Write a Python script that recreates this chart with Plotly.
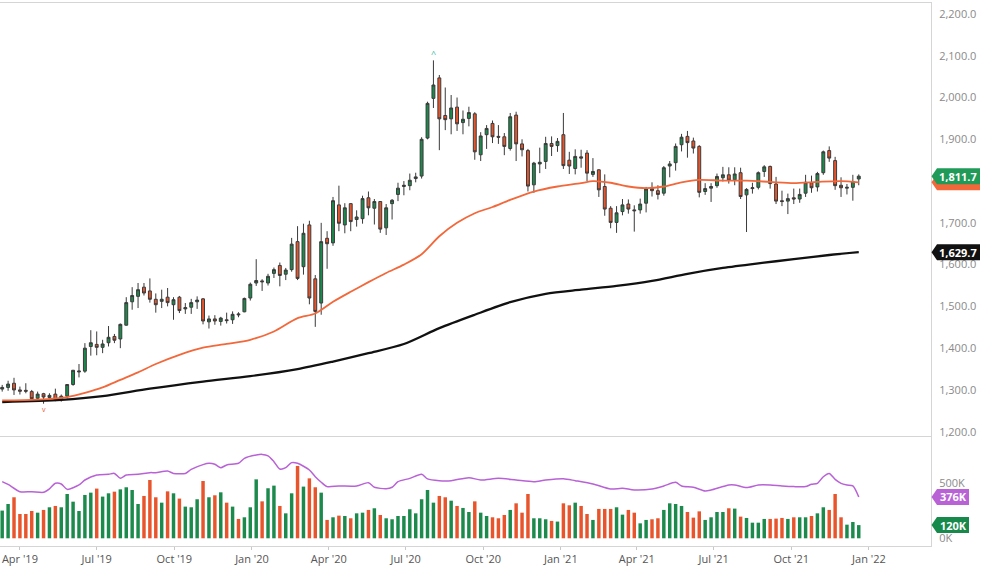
import pandas as pd
import plotly.graph_objects as go
from plotly.subplots import make_subplots

# ---------------- data (weekly) ----------------
week_start = "2019-03-11"
n_weeks = 146
dates = pd.date_range(week_start, periods=n_weeks, freq="7D")

opens = [1302, 1306, 1316, 1300, 1299, 1296, 1280, 1291, 1282, 1290, 1277, 1285, 1313, 1343, 1345, 1404, 1409, 1402, 1413, 1428,
         1422, 1455, 1511, 1524, 1546, 1537, 1517, 1512, 1522, 1504, 1522, 1494, 1498, 1511, 1518, 1463, 1470, 1464, 1468, 1468,
         1482, 1487, 1520, 1556, 1561, 1556, 1579, 1598, 1577, 1588, 1655, 1595, 1695, 1566, 1508, 1663, 1652, 1743, 1695, 1746,
         1708, 1710, 1760, 1735, 1751, 1688, 1746, 1768, 1787, 1789, 1806, 1812, 1903, 1998, 2047, 1957, 1949, 1977, 1940, 1950,
         1961, 1863, 1911, 1938, 1907, 1906, 1878, 1958, 1889, 1873, 1791, 1841, 1847, 1890, 1885, 1911, 1850, 1830, 1858, 1867,
         1816, 1827, 1787, 1735, 1701, 1727, 1745, 1731, 1731, 1747, 1782, 1777, 1771, 1836, 1844, 1887, 1907, 1896, 1883, 1775,
         1783, 1789, 1808, 1815, 1803, 1820, 1767, 1782, 1785, 1823, 1835, 1793, 1753, 1752, 1760, 1757, 1771, 1796, 1786, 1820,
         1873, 1849, 1790, 1783, 1785, 1805]
highs = [1312, 1322, 1329, 1308, 1316, 1300, 1296, 1293, 1292, 1303, 1289, 1313, 1348, 1362, 1412, 1443, 1440, 1420, 1453, 1434,
         1459, 1522, 1546, 1556, 1556, 1567, 1531, 1540, 1544, 1522, 1525, 1508, 1518, 1524, 1520, 1478, 1479, 1475, 1485, 1488,
         1486, 1521, 1557, 1613, 1565, 1578, 1593, 1605, 1592, 1664, 1692, 1698, 1705, 1575, 1700, 1680, 1762, 1789, 1747, 1747,
         1730, 1765, 1775, 1757, 1752, 1745, 1757, 1796, 1800, 1818, 1820, 1905, 1990, 2089, 2054, 2024, 2006, 2000, 1969, 1978,
         1965, 1917, 1934, 1945, 1934, 1915, 1963, 1966, 1900, 1877, 1846, 1880, 1906, 1907, 1903, 1963, 1870, 1876, 1875, 1874,
         1855, 1828, 1816, 1740, 1740, 1757, 1756, 1742, 1758, 1786, 1797, 1790, 1836, 1848, 1890, 1913, 1920, 1904, 1886, 1795,
         1795, 1818, 1834, 1833, 1833, 1832, 1783, 1796, 1823, 1838, 1837, 1810, 1777, 1770, 1782, 1782, 1815, 1813, 1822, 1873,
         1883, 1858, 1809, 1793, 1815, 1816]
lows = [1296, 1298, 1288, 1289, 1292, 1274, 1272, 1267, 1279, 1273, 1272, 1280, 1310, 1330, 1341, 1382, 1383, 1388, 1404, 1412,
        1400, 1454, 1492, 1496, 1526, 1509, 1485, 1496, 1500, 1468, 1484, 1482, 1482, 1494, 1457, 1447, 1456, 1454, 1459, 1458,
        1474, 1486, 1514, 1549, 1537, 1550, 1568, 1548, 1563, 1583, 1563, 1576, 1505, 1451, 1480, 1590, 1645, 1680, 1675, 1680,
        1691, 1698, 1718, 1696, 1676, 1671, 1708, 1752, 1766, 1778, 1797, 1806, 1900, 1975, 1874, 1922, 1912, 1920, 1912, 1931,
        1851, 1848, 1877, 1891, 1889, 1862, 1873, 1848, 1859, 1775, 1772, 1819, 1829, 1860, 1870, 1829, 1817, 1816, 1832, 1800,
        1810, 1762, 1717, 1687, 1676, 1718, 1722, 1679, 1722, 1725, 1763, 1756, 1765, 1809, 1825, 1871, 1856, 1866, 1761, 1767,
        1750, 1784, 1799, 1794, 1790, 1757, 1678, 1770, 1780, 1810, 1782, 1745, 1740, 1721, 1745, 1748, 1762, 1772, 1775, 1815,
        1846, 1779, 1762, 1768, 1753, 1790]
closes = [1306, 1314, 1300, 1297, 1297, 1279, 1290, 1283, 1287, 1277, 1285, 1313, 1347, 1345, 1400, 1413, 1402, 1410, 1426, 1419,
          1457, 1509, 1526, 1540, 1532, 1517, 1504, 1517, 1509, 1516, 1490, 1497, 1509, 1515, 1465, 1470, 1465, 1472, 1466, 1481,
          1480, 1519, 1553, 1562, 1559, 1572, 1588, 1574, 1587, 1649, 1567, 1675, 1520, 1488, 1655, 1650, 1753, 1699, 1736, 1703,
          1714, 1758, 1736, 1751, 1685, 1736, 1754, 1783, 1790, 1802, 1810, 1900, 1986, 2030, 1949, 1947, 1975, 1937, 1948, 1964,
          1870, 1908, 1926, 1906, 1905, 1883, 1954, 1889, 1875, 1788, 1843, 1845, 1890, 1883, 1895, 1837, 1836, 1859, 1855, 1819,
          1823, 1779, 1733, 1701, 1724, 1743, 1733, 1729, 1745, 1781, 1777, 1768, 1832, 1841, 1883, 1905, 1892, 1879, 1773, 1782,
          1787, 1811, 1815, 1802, 1817, 1763, 1780, 1784, 1820, 1834, 1794, 1752, 1751, 1758, 1757, 1768, 1797, 1784, 1818, 1870,
          1855, 1789, 1784, 1785, 1799, 1811.7]
volumes_k = [252, 312, 373, 221, 221, 248, 233, 258, 282, 294, 282, 403, 333, 248, 394, 415, 452, 379, 409, 424,
             445, 464, 439, 312, 385, 530, 373, 324, 427, 409, 361, 288, 282, 355, 521, 373, 391, 418, 324, 288,
             176, 191, 282, 536, 336, 455, 479, 294, 227, 409, 658, 470, 545, 464, 415, 167, 191, 206, 203, 182,
             227, 233, 258, 273, 212, 182, 173, 203, 203, 264, 227, 355, 439, 324, 385, 373, 342, 294, 276, 239,
             336, 233, 203, 191, 182, 212, 258, 318, 233, 403, 182, 182, 173, 158, 152, 318, 300, 324, 294, 221,
             167, 267, 267, 267, 282, 215, 258, 233, 136, 167, 173, 182, 258, 318, 312, 294, 239, 188, 245, 167,
             191, 239, 239, 273, 270, 197, 185, 142, 142, 176, 176, 179, 185, 176, 191, 191, 191, 203, 227, 282,
             258, 403, 191, 124, 148, 120]

# open-interest style line (K), sampled at week indices
oi_idx = [0, 1, 3, 5, 7, 8, 9, 10, 11, 13, 14, 16, 18, 19, 20, 21, 23, 25, 26, 28, 29, 31, 32, 34, 35, 36, 37, 38, 40, 41,
          43, 44, 45, 46, 47, 48, 49, 50, 52, 53, 54, 55, 57, 60, 62, 63, 65, 66, 67, 69, 71, 72, 74, 76, 79, 81, 84, 87, 90, 92,
          95, 97, 100, 103, 105, 107, 110, 112, 114, 115, 117, 119, 120, 123, 124, 126, 128, 130, 132, 134, 136, 137, 138, 139, 140, 141,
          142, 143, 144, 145]
oi_k = [515, 490, 424, 424, 418, 450, 500, 494, 445, 485, 530, 575, 582, 590, 545, 575, 582, 597, 597, 612, 590, 590, 627, 670, 682,
        673, 642, 667, 682, 727, 757, 763, 750, 697, 630, 642, 688, 682, 621, 560, 510, 470, 476, 476, 506, 464, 451, 464, 515, 545,
        582, 540, 524, 524, 551, 530, 545, 530, 515, 530, 542, 524, 494, 448, 455, 439, 448, 476, 509, 476, 464, 430, 439, 485, 485,
        461, 485, 485, 476, 470, 470, 491, 500, 560, 590, 536, 500, 485, 476, 376]

ma_fast_idx = [0, 6, 11, 14, 17, 20, 23, 26, 30, 34, 38, 42, 46, 50, 53, 56, 59, 62, 65, 68, 71, 74, 77, 80, 83, 86, 90, 94, 98,
               100, 103, 106, 109, 112, 115, 118, 122, 126, 130, 134, 138, 142, 145]
ma_fast = [1275, 1277, 1283, 1293, 1306, 1324, 1342, 1362, 1384, 1401, 1410, 1420, 1440, 1472, 1483, 1511, 1535, 1558, 1580, 1600,
           1625, 1668, 1700, 1723, 1738, 1755, 1775, 1787, 1795, 1800, 1796, 1787, 1783, 1787, 1797, 1803, 1801, 1801, 1798, 1795,
           1798, 1800, 1797]
ma_slow_idx = [0, 10, 17, 25, 34, 42, 50, 56, 62, 68, 74, 80, 86, 92, 98, 104, 110, 116, 122, 128, 134, 140, 145]
ma_slow = [1271, 1276, 1285, 1303, 1320, 1333, 1350, 1368, 1388, 1410, 1448, 1480, 1510, 1530, 1540, 1549, 1561, 1578, 1592, 1603,
           1613, 1623, 1629.7]

x_tick_vals = pd.date_range("2019-04-01", "2022-01-01", freq="QS")
x_tick_text = ["Apr '19", "Jul '19", "Oct '19", "Jan '20", "Apr '20", "Jul '20", "Oct '20",
               "Jan '21", "Apr '21", "Jul '21", "Oct '21", "Jan '22"]
price_ticks = list(range(1200, 2201, 100))
vol_ticks = [0, 500]
vol_tick_text = ["0K", "500K"]

# ---------------- styling ----------------
GREEN = "#1b8a4c"
RED = "#e8552c"
ORANGE = "#f2683a"
PURPLE = "#b862d6"
AXIS = "#d5d5d5"
FONT = "Open Sans, Noto Sans, sans-serif"

W, H = 988, 567
ML, MR, MT, MB = 0, 57, 3, 21
plot_w = W - ML - MR
plot_h = H - MT - MB
main_dom = [110 / plot_h, 1.0]
vol_dom = [0.0, 109 / plot_h]
y_range = [1189.7, 2226.3]
v_range = [-70, 921]
x_range = ["2019-03-08 09:36", "2022-03-15 14:24"]

fig = make_subplots(rows=2, cols=1, shared_xaxes=True, vertical_spacing=0)

fig.add_trace(go.Scatter(x=[dates[i] for i in ma_slow_idx], y=ma_slow, mode="lines",
                         line=dict(color="#111111", width=2.3, shape="spline", smoothing=0.8),
                         hoverinfo="skip", showlegend=False), row=1, col=1)
fig.add_trace(go.Scatter(x=[dates[i] for i in ma_fast_idx], y=ma_fast, mode="lines",
                         line=dict(color=ORANGE, width=1.8, shape="spline", smoothing=0.8),
                         hoverinfo="skip", showlegend=False), row=1, col=1)
fig.add_trace(go.Candlestick(x=dates, open=opens, high=highs, low=lows, close=closes,
                             increasing=dict(fillcolor=GREEN, line=dict(color="#3a3a3a", width=1)),
                             decreasing=dict(fillcolor=RED, line=dict(color="#3a3a3a", width=1)),
                             whiskerwidth=0, showlegend=False), row=1, col=1)

bar_colors = [GREEN if c >= o else RED for o, c in zip(opens, closes)]
bar_w_ms = 4.1 * 86400000
fig.add_trace(go.Bar(x=dates, y=volumes_k, marker=dict(color=bar_colors, line=dict(width=0)),
                     width=[bar_w_ms] * n_weeks, showlegend=False, hoverinfo="skip"), row=2, col=1)
fig.add_trace(go.Scatter(x=[dates[i] for i in oi_idx], y=oi_k, mode="lines",
                         line=dict(color=PURPLE, width=1.5, shape="spline", smoothing=0.7),
                         hoverinfo="skip", showlegend=False), row=2, col=1)

fig.update_layout(
    width=W, height=H, margin=dict(l=ML, r=MR, t=MT, b=MB),
    paper_bgcolor="white", plot_bgcolor="white",
    font=dict(family=FONT, size=11, color="#555555"),
    bargap=0.3, showlegend=False, hovermode=False,
)
fig.update_xaxes(range=x_range, showgrid=False, zeroline=False)
fig.update_layout(
    xaxis=dict(rangeslider=dict(visible=False), showticklabels=False, showline=True, linecolor=AXIS,
               linewidth=1, mirror=True, ticks=""),
    xaxis2=dict(tickvals=list(x_tick_vals), ticktext=x_tick_text, showline=True, linecolor=AXIS, linewidth=1,
                ticks="outside", ticklen=3, tickcolor="#c8c8c8",
                tickfont=dict(size=11, color="#555555", family=FONT)),
    yaxis=dict(domain=main_dom, range=y_range, side="right", tickvals=price_ticks, tickformat=",.1f",
               showgrid=False, zeroline=False, showline=True, linecolor=AXIS, linewidth=1,
               ticks="outside", ticklen=5, tickcolor="rgba(0,0,0,0)",
               tickfont=dict(size=11, color="#8a8a8a", family=FONT)),
    yaxis2=dict(domain=vol_dom, range=v_range, side="right", tickvals=vol_ticks, ticktext=vol_tick_text,
                showgrid=False, zeroline=False, showline=True, linecolor=AXIS, linewidth=1,
                ticks="outside", ticklen=5, tickcolor="rgba(0,0,0,0)",
                tickfont=dict(size=11, color="#8a8a8a", family=FONT)),
)

# value tags on the right axis
main_units_per_px = (y_range[1] - y_range[0]) / (plot_h * (main_dom[1] - main_dom[0]))
vol_units_per_px = (v_range[1] - v_range[0]) / (plot_h * (vol_dom[1] - vol_dom[0]))


def add_tag(yval, yref, upp, color, text, right_px):
    half = 8 * upp
    xp = 931.5 / plot_w
    xl = 937 / plot_w
    xr = right_px / plot_w
    path = (f"M {xp},{yval} L {xl},{yval + half} L {xr},{yval + half} "
            f"L {xr},{yval - half} L {xl},{yval - half} Z")
    fig.add_shape(type="path", path=path, xref="paper", yref=yref, fillcolor=color,
                  line=dict(width=0), layer="above")
    if text:
        fig.add_annotation(x=(xl + xr) / 2, y=yval, xref="paper", yref=yref, text=f"<b>{text}</b>",
                           showarrow=False, font=dict(size=11, color="white", family=FONT),
                           xanchor="center", yanchor="middle")


add_tag(ma_fast[-1], "y", main_units_per_px, ORANGE, "", 980)
add_tag(closes[-1], "y", main_units_per_px, "#1f9a57", f"{closes[-1]:,.1f}", 980)
add_tag(ma_slow[-1], "y", main_units_per_px, "#111111", f"{ma_slow[-1]:,.1f}", 980)
add_tag(oi_k[-1], "y2", vol_units_per_px, PURPLE, f"{oi_k[-1]:.0f}K", 969)
add_tag(volumes_k[-1], "y2", vol_units_per_px, "#17894b", f"{volumes_k[-1]:.0f}K", 969)

# high / low markers
hi_i = highs.index(max(highs))
lo_i = lows.index(min(lows))
fig.add_annotation(x=dates[hi_i], y=highs[hi_i], text="^", showarrow=False, yshift=7,
                   font=dict(size=9, color="#35b79f"), xref="x", yref="y")
fig.add_annotation(x=dates[lo_i], y=lows[lo_i], text="v", showarrow=False, yshift=-6,
                   font=dict(size=7, color=RED), xref="x", yref="y")

fig.write_html("out.html", config={"displayModeBar": False},
               post_script="document.body.style.margin='0px';document.body.style.overflow='hidden';")
